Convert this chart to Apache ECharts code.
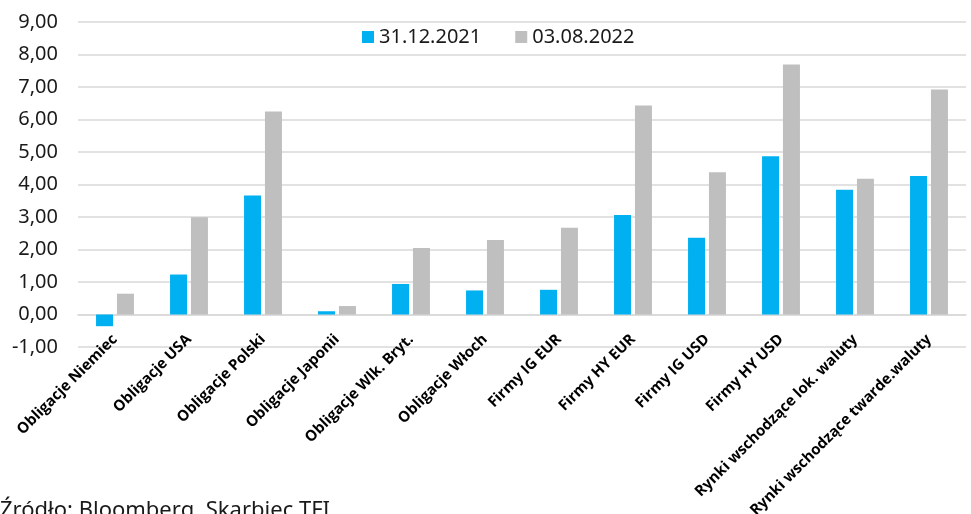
<!DOCTYPE html>
<html>
<head>
<meta charset="utf-8">
<script src="https://cdn.jsdelivr.net/npm/echarts@6/dist/echarts.min.js"></script>
<style>
  html, body { margin: 0; padding: 0; background: #fff; }
  #chart { width: 971px; height: 514px; }
</style>
</head>
<body>
<div id="chart"></div>
<script>
var categories = ['Obligacje Niemiec', 'Obligacje USA', 'Obligacje Polski', 'Obligacje Japonii',
  'Obligacje Wlk. Bryt.', 'Obligacje Włoch', 'Firmy IG EUR', 'Firmy HY EUR', 'Firmy IG USD',
  'Firmy HY USD', 'Rynki wschodzące lok. waluty', 'Rynki wschodzące twarde.waluty'];
var seriesNames = ['31.12.2021', '03.08.2022'];
var values2021 = [-0.36, 1.23, 3.66, 0.10, 0.94, 0.74, 0.76, 3.06, 2.36, 4.87, 3.84, 4.26];
var values2022 = [0.64, 2.99, 6.25, 0.26, 2.05, 2.29, 2.67, 6.43, 4.38, 7.69, 4.18, 6.92];
var colors = ['#00B0F0', '#BFBFBF'];

var chart = echarts.init(document.getElementById('chart'));
var option = {
  animation: false,
  color: colors,
  textStyle: { fontFamily: 'Noto Sans' },
  grid: { left: 78, right: 5, top: 22, bottom: 167, outerBoundsMode: 'none', containLabel: false },
  legend: {
    data: seriesNames,
    left: 357,
    top: 22,
    icon: 'rect',
    itemWidth: 12,
    itemHeight: 12,
    itemGap: 34,
    textStyle: { fontSize: 20, color: '#1a1a1a', fontFamily: 'Noto Sans' }
  },
  xAxis: {
    type: 'category',
    data: categories,
    axisLine: { onZero: true, lineStyle: { color: '#d9d9d9', width: 1.5 } },
    axisTick: { show: false },
    axisLabel: {
      interval: 0,
      rotate: 45,
      margin: -10,
      fontSize: 15,
      fontWeight: 'bold',
      color: '#000',
      fontFamily: 'Open Sans'
    }
  },
  yAxis: {
    type: 'value',
    min: -1,
    max: 9,
    interval: 1,
    axisLine: { show: false },
    axisTick: { show: false },
    splitLine: { lineStyle: { color: '#d9d9d9', width: 1.5 } },
    axisLabel: {
      fontSize: 20,
      color: '#1a1a1a',
      margin: 20,
      fontFamily: 'Noto Sans',
      formatter: function (v) { return v.toFixed(2).replace('.', ','); }
    }
  },
  series: [
    { name: seriesNames[0], type: 'bar', data: values2021, barWidth: 17, barGap: '23%' },
    { name: seriesNames[1], type: 'bar', data: values2022, barWidth: 17, barGap: '23%' }
  ],
  graphic: [{
    type: 'text',
    left: 0,
    top: 500,
    style: { text: 'Źródło: Bloomberg, Skarbiec TFI', fontSize: 22, fill: '#1a1a1a', fontFamily: 'Noto Sans' }
  }]
};
chart.setOption(option);
</script>
</body>
</html>
